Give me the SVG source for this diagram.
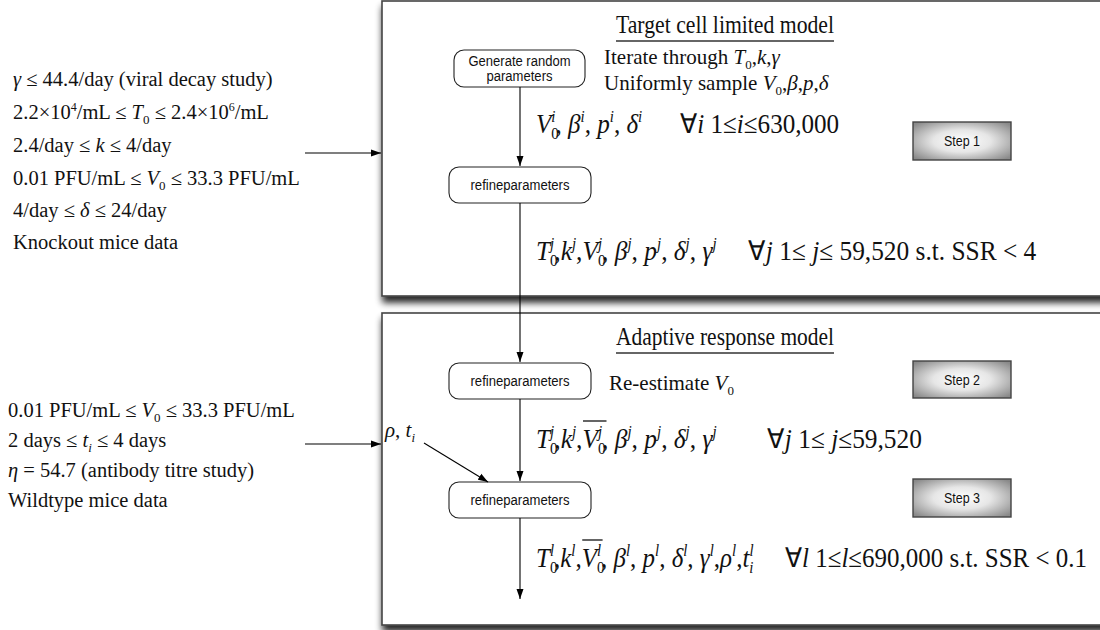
<svg xmlns="http://www.w3.org/2000/svg" width="1100" height="630" viewBox="0 0 1100 630">
  <style>
    .serif { font-family: "Liberation Serif", "Times New Roman", serif; fill: #111; }
    .lbl { font-size: 20.5px; }
    .note { font-size: 21px; }
    .eq { font-size: 27px; }
    .title { font-size: 26px; }
    .i { font-style: italic; }
    .sans { font-family: "Liberation Sans", Arial, sans-serif; font-size: 14px; fill: #111; text-anchor: middle; }
    .panel { fill: #fff; stroke: #444; stroke-width: 1.6; }
    .node { fill: #fff; stroke: #222; stroke-width: 1.1; }
    .step { fill: url(#stepFill); stroke: #444; stroke-width: 1.4; }
    .wire { stroke: #000; stroke-width: 1.1; fill: none; }
    .rule { stroke: #333; stroke-width: 1.4; }
  </style>
  <defs>
    <marker id="arrow" markerUnits="userSpaceOnUse" markerWidth="10" markerHeight="8" refX="10" refY="4" orient="auto">
      <path d="M0,0.5 L10,4 L0,7.5 z" fill="#000"/>
    </marker>
    <radialGradient id="stepFill" cx="50%" cy="50%" r="65%">
      <stop offset="0" stop-color="#ffffff"/>
      <stop offset="0.45" stop-color="#e6e6e6"/>
      <stop offset="1" stop-color="#8a8a8a"/>
    </radialGradient>
    <filter id="shadow" x="-5%" y="-5%" width="115%" height="115%">
      <feGaussianBlur in="SourceAlpha" stdDeviation="3.5"/>
      <feOffset dx="1" dy="6" result="b"/>
      <feComponentTransfer><feFuncA type="linear" slope="0.85"/></feComponentTransfer>
      <feMerge><feMergeNode/><feMergeNode in="SourceGraphic"/></feMerge>
    </filter>
  </defs>

  <rect width="1100" height="630" fill="#fff"/>

  <!-- panels -->
  <g id="panel-target-cell">
    <rect class="panel" x="382" y="1" width="740" height="295" filter="url(#shadow)"/>
    <text class="serif title" x="616" y="33" textLength="218" lengthAdjust="spacingAndGlyphs">Target cell limited model</text>
    <line class="rule" x1="616" y1="41" x2="834" y2="41"/>
  </g>
  <g id="panel-adaptive">
    <rect class="panel" x="382" y="313" width="740" height="312" filter="url(#shadow)"/>
    <text class="serif title" x="616" y="345" textLength="218" lengthAdjust="spacingAndGlyphs">Adaptive response model</text>
    <line class="rule" x1="616" y1="353" x2="834" y2="353"/>
  </g>

  <!-- input ranges -->
  <g id="inputs-knockout" class="serif lbl">
    <text x="13" y="86"><tspan class="i">γ</tspan> ≤ 44.4/day (viral decay study)</text>
    <text x="13" y="119">2.2×10<tspan dy="-8" font-size="12">4</tspan><tspan dy="8">/mL ≤ </tspan><tspan class="i">T</tspan><tspan dy="5" font-size="13">0</tspan><tspan dy="-5"> ≤ 2.4×10</tspan><tspan dy="-8" font-size="12">6</tspan><tspan dy="8">/mL</tspan></text>
    <text x="13" y="152">2.4/day ≤ <tspan class="i">k</tspan> ≤ 4/day</text>
    <text x="13" y="185">0.01 PFU/mL ≤ <tspan class="i">V</tspan><tspan dy="5" font-size="13">0</tspan><tspan dy="-5"> ≤ 33.3 PFU/mL</tspan></text>
    <text x="13" y="217">4/day ≤ <tspan class="i">δ</tspan> ≤ 24/day</text>
    <text x="13" y="249">Knockout mice data</text>
  </g>
  <g id="inputs-wildtype" class="serif lbl">
    <text x="8" y="417">0.01 PFU/mL ≤ <tspan class="i">V</tspan><tspan dy="5" font-size="13">0</tspan><tspan dy="-5"> ≤ 33.3 PFU/mL</tspan></text>
    <text x="8" y="447">2 days ≤ <tspan class="i">t</tspan><tspan dy="5" font-size="13" class="i">i</tspan><tspan dy="-5"> ≤ 4 days</tspan></text>
    <text x="8" y="477"><tspan class="i">η</tspan> = 54.7 (antibody titre study)</text>
    <text x="8" y="507">Wildtype mice data</text>
  </g>

  <!-- process nodes -->
  <g id="node-generate">
    <rect class="node" x="454" y="50" width="131" height="37" rx="10"/>
    <text class="sans" x="519.5" y="66" textLength="102" lengthAdjust="spacingAndGlyphs">Generate random</text>
    <text class="sans" x="519.5" y="81" textLength="66" lengthAdjust="spacingAndGlyphs">parameters</text>
  </g>
  <g id="node-refine-1">
    <rect class="node" x="449" y="167" width="142" height="36" rx="10"/>
    <text class="sans" x="520" y="190" textLength="99" lengthAdjust="spacingAndGlyphs">refineparameters</text>
  </g>
  <g id="node-refine-2">
    <rect class="node" x="449" y="363" width="142" height="36" rx="10"/>
    <text class="sans" x="520" y="386" textLength="99" lengthAdjust="spacingAndGlyphs">refineparameters</text>
  </g>
  <g id="node-refine-3">
    <rect class="node" x="449" y="482" width="142" height="36" rx="10"/>
    <text class="sans" x="520" y="505" textLength="99" lengthAdjust="spacingAndGlyphs">refineparameters</text>
  </g>
  <g id="step-1">
    <rect class="step" x="913" y="122" width="98" height="38"/>
    <text class="sans" x="962" y="146" textLength="36" lengthAdjust="spacingAndGlyphs">Step 1</text>
  </g>
  <g id="step-2">
    <rect class="step" x="913" y="361" width="98" height="37"/>
    <text class="sans" x="962" y="385" textLength="36" lengthAdjust="spacingAndGlyphs">Step 2</text>
  </g>
  <g id="step-3">
    <rect class="step" x="913" y="479" width="98" height="38"/>
    <text class="sans" x="962" y="503" textLength="36" lengthAdjust="spacingAndGlyphs">Step 3</text>
  </g>

  <!-- connectors -->
  <g id="connectors">
    <line class="wire" x1="305" y1="153" x2="381" y2="153" marker-end="url(#arrow)"/>
    <line class="wire" x1="305" y1="444" x2="381" y2="444" marker-end="url(#arrow)"/>
    <line class="wire" x1="520" y1="87" x2="520" y2="166" marker-end="url(#arrow)"/>
    <line class="wire" x1="520" y1="203" x2="520" y2="362" marker-end="url(#arrow)"/>
    <line class="wire" x1="520" y1="399" x2="520" y2="481" marker-end="url(#arrow)"/>
    <line class="wire" x1="424" y1="443" x2="488" y2="482" marker-end="url(#arrow)"/>
    <line class="wire" x1="520" y1="518" x2="520" y2="599" marker-end="url(#arrow)"/>
  </g>

  <!-- annotations -->
  <g id="annotations" class="serif">
    <text class="note" x="604" y="64">Iterate through <tspan class="i">T</tspan><tspan dy="5" font-size="13">0</tspan><tspan dy="-5">,</tspan><tspan class="i">k</tspan>,<tspan class="i">γ</tspan></text>
    <text class="note" x="604" y="90">Uniformly sample <tspan class="i">V</tspan><tspan dy="5" font-size="13">0</tspan><tspan dy="-5">,</tspan><tspan class="i">β</tspan>,<tspan class="i">p</tspan>,<tspan class="i">δ</tspan></text>
    <text class="note" x="609" y="390">Re-estimate <tspan class="i">V</tspan><tspan dy="5" font-size="13">0</tspan></text>
    <text class="note" x="385" y="437"><tspan class="i">ρ</tspan>, <tspan class="i">t</tspan><tspan dy="5" font-size="13" class="i">i</tspan></text>

    <g transform="translate(536,133) scale(0.93,1)">
      <text class="eq" x="0" y="0" xml:space="preserve"><tspan class="i">V</tspan><tspan dy="6" font-size="16">0</tspan><tspan dx="-8" dy="-17" font-size="16" class="i">i</tspan><tspan dy="11">, </tspan><tspan class="i">β</tspan><tspan dy="-11" font-size="16" class="i">i</tspan><tspan dy="11">, </tspan><tspan class="i">p</tspan><tspan dy="-11" font-size="16" class="i">i</tspan><tspan dy="11">, </tspan><tspan class="i">δ</tspan><tspan dy="-11" font-size="16" class="i">i</tspan><tspan dy="11">      ∀</tspan><tspan class="i">i</tspan> 1≤<tspan class="i">i</tspan>≤630,000</text>
    </g>

    <g transform="translate(536,260) scale(0.94,1)">
      <text class="eq" x="0" y="0" xml:space="preserve"><tspan class="i">T</tspan><tspan dy="6" font-size="16">0</tspan><tspan dx="-8" dy="-17" font-size="16" class="i">j</tspan><tspan dy="11">,</tspan><tspan class="i">k</tspan><tspan dy="-11" font-size="16" class="i">j</tspan><tspan dy="11">,</tspan><tspan class="i">V</tspan><tspan dy="6" font-size="16">0</tspan><tspan dx="-8" dy="-17" font-size="16" class="i">j</tspan><tspan dy="11">, </tspan><tspan class="i">β</tspan><tspan dy="-11" font-size="16" class="i">j</tspan><tspan dy="11">, </tspan><tspan class="i">p</tspan><tspan dy="-11" font-size="16" class="i">j</tspan><tspan dy="11">, </tspan><tspan class="i">δ</tspan><tspan dy="-11" font-size="16" class="i">j</tspan><tspan dy="11">, </tspan><tspan class="i">γ</tspan><tspan dy="-11" font-size="16" class="i">j</tspan><tspan dy="11">     ∀</tspan><tspan class="i">j</tspan> 1≤ <tspan class="i">j</tspan>≤ 59,520 s.t. SSR &lt; 4</text>
    </g>

    <g transform="translate(536,448) scale(0.94,1)">
      <text class="eq" x="0" y="0" xml:space="preserve"><tspan class="i">T</tspan><tspan dy="6" font-size="16">0</tspan><tspan dx="-8" dy="-17" font-size="16" class="i">j</tspan><tspan dy="11">,</tspan><tspan class="i">k</tspan><tspan dy="-11" font-size="16" class="i">j</tspan><tspan dy="11">,</tspan><tspan class="i">V</tspan><tspan dy="6" font-size="16">0</tspan><tspan dx="-8" dy="-17" font-size="16" class="i">j</tspan><tspan dy="11">, </tspan><tspan class="i">β</tspan><tspan dy="-11" font-size="16" class="i">j</tspan><tspan dy="11">, </tspan><tspan class="i">p</tspan><tspan dy="-11" font-size="16" class="i">j</tspan><tspan dy="11">, </tspan><tspan class="i">δ</tspan><tspan dy="-11" font-size="16" class="i">j</tspan><tspan dy="11">, </tspan><tspan class="i">γ</tspan><tspan dy="-11" font-size="16" class="i">j</tspan><tspan dy="11">        ∀</tspan><tspan class="i">j</tspan> 1≤ <tspan class="i">j</tspan>≤59,520</text>
      <line x1="50" y1="-27" x2="75" y2="-27" stroke="#111" stroke-width="1.3"/>
    </g>

    <g transform="translate(536,567) scale(0.925,1)">
      <text class="eq" x="0" y="0" xml:space="preserve"><tspan class="i">T</tspan><tspan dy="6" font-size="16">0</tspan><tspan dx="-8" dy="-17" font-size="16" class="i">l</tspan><tspan dy="11">,</tspan><tspan class="i">k</tspan><tspan dy="-11" font-size="16" class="i">l</tspan><tspan dy="11">,</tspan><tspan class="i">V</tspan><tspan dy="6" font-size="16">0</tspan><tspan dx="-8" dy="-17" font-size="16" class="i">l</tspan><tspan dy="11">, </tspan><tspan class="i">β</tspan><tspan dy="-11" font-size="16" class="i">l</tspan><tspan dy="11">, </tspan><tspan class="i">p</tspan><tspan dy="-11" font-size="16" class="i">l</tspan><tspan dy="11">, </tspan><tspan class="i">δ</tspan><tspan dy="-11" font-size="16" class="i">l</tspan><tspan dy="11">, </tspan><tspan class="i">γ</tspan><tspan dy="-11" font-size="16" class="i">l</tspan><tspan dy="11">,</tspan><tspan class="i">ρ</tspan><tspan dy="-11" font-size="16" class="i">l</tspan><tspan dy="11">,</tspan><tspan class="i">t</tspan><tspan dy="6" font-size="16" class="i">i</tspan><tspan dx="-4.4" dy="-17" font-size="16" class="i">l</tspan><tspan dy="11">     ∀</tspan><tspan class="i">l</tspan> 1≤<tspan class="i">l</tspan>≤690,000 s.t. SSR &lt; 0.1</text>
      <line x1="50" y1="-27" x2="72" y2="-27" stroke="#111" stroke-width="1.3"/>
    </g>
  </g>
</svg>
